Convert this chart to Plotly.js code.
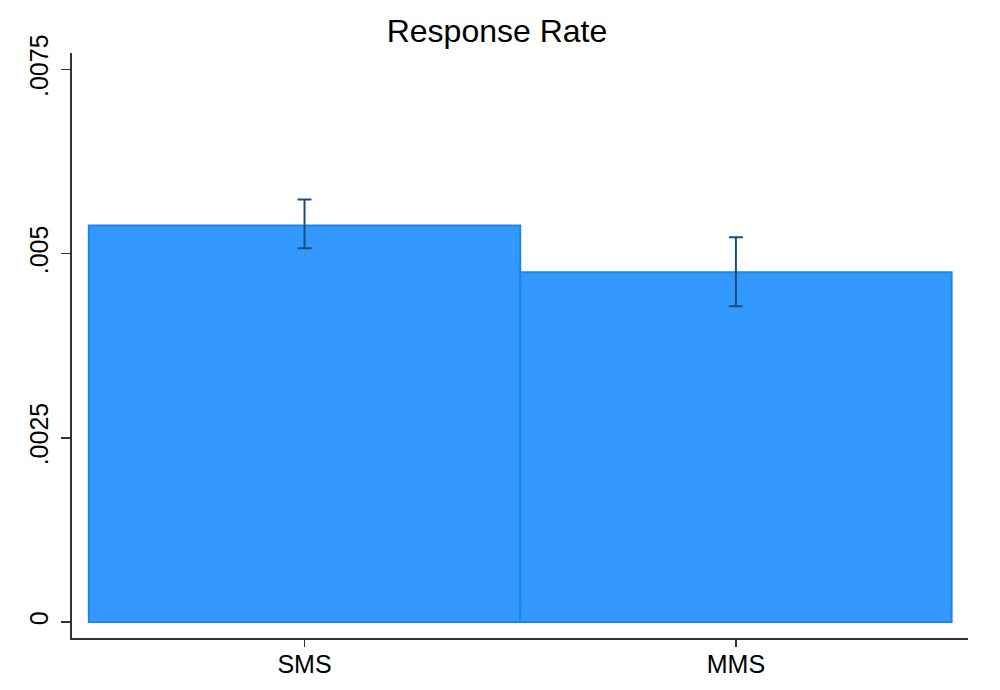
<!DOCTYPE html>
<html>
<head>
<meta charset="utf-8">
<script src="https://cdn.plot.ly/plotly-3.0.1.min.js"></script>
<style>html,body{margin:0;padding:0;background:#fff;}#chart{width:1000px;height:690px;}</style>
</head>
<body>
<div id="chart"></div>
<script>
const categories = ["SMS", "MMS"];
const responseRate = [0.005384, 0.004747];
const ciUpper = [0.005737, 0.005222];
const ciLower = [0.005072, 0.004286];
const yTickVals = [0, 0.0025, 0.005, 0.0075];
const yTickText = ["0", ".0025", ".005", ".0075"];

const xIdx = categories.map((c, i) => i);

const bars = {
  type: "bar",
  x: xIdx,
  y: responseRate,
  width: 1,
  marker: { color: "#3399ff", line: { color: "#1a85ee", width: 2 } },
  hoverinfo: "skip"
};
const errs = {
  type: "scatter",
  mode: "markers",
  x: xIdx,
  y: ciLower,
  marker: { size: 0.1, opacity: 0 },
  error_y: {
    type: "data",
    symmetric: false,
    array: ciUpper.map((u, i) => u - ciLower[i]),
    arrayminus: ciLower.map(() => 0),
    color: "#1c4f78",
    thickness: 2,
    width: 7
  },
  hoverinfo: "skip"
};

const layout = {
  width: 1000,
  height: 690,
  margin: { l: 72, r: 32, t: 53, b: 52 },
  paper_bgcolor: "#ffffff",
  plot_bgcolor: "#ffffff",
  showlegend: false,
  font: { family: "Liberation Sans, Arial, sans-serif", color: "#000" },
  title: {
    text: "Response Rate",
    x: 0.497,
    xanchor: "center",
    y: 0.955,
    yanchor: "middle",
    font: { size: 32, color: "#000" }
  },
  xaxis: {
    range: [-0.539, 1.538],
    tickvals: xIdx,
    ticktext: categories,
    showline: true,
    linecolor: "#333",
    linewidth: 2,
    ticks: "outside",
    ticklen: 7,
    tickwidth: 1.5,
    tickcolor: "#333",
    ticklabelstandoff: -4,
    showgrid: false,
    zeroline: false,
    tickfont: { size: 25 }
  },
  yaxis: {
    range: [-0.000217, 0.007724],
    tickvals: yTickVals,
    ticktext: yTickText,
    tickangle: -90,
    showline: true,
    linecolor: "#333",
    linewidth: 2,
    ticks: "outside",
    ticklen: 9,
    tickwidth: 1.5,
    tickcolor: "#333",
    ticklabelstandoff: 3,
    showgrid: false,
    zeroline: false,
    tickfont: { size: 25 }
  }
};

Plotly.newPlot("chart", [bars, errs], layout, { displayModeBar: false, staticPlot: true });
</script>
</body>
</html>
